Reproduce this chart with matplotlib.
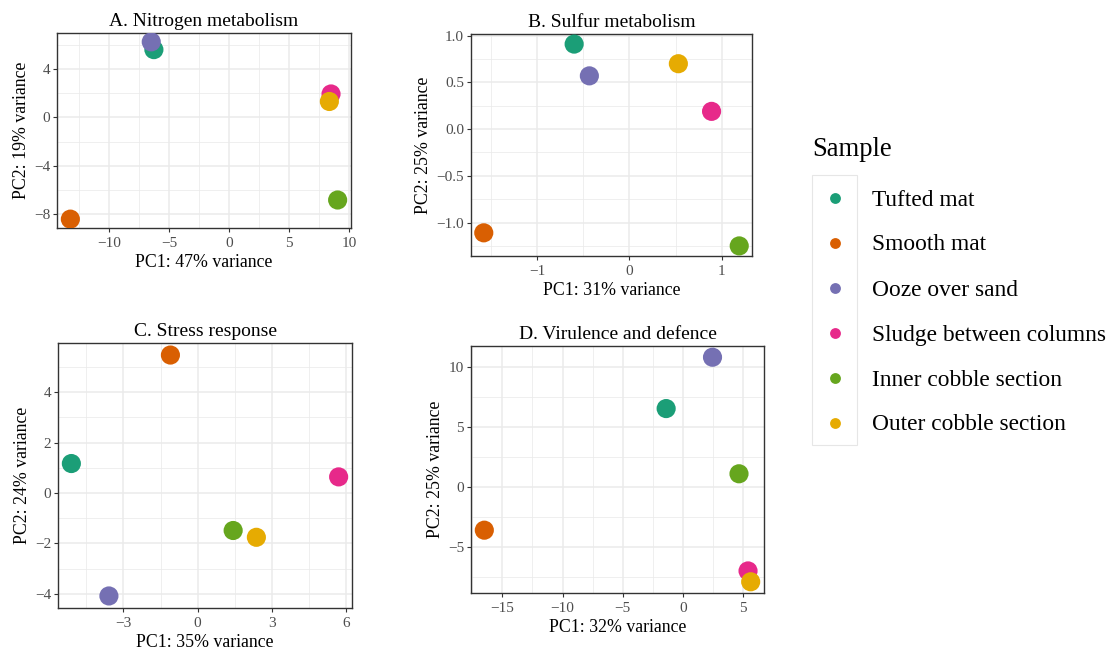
import matplotlib
matplotlib.use("Agg")
import matplotlib.pyplot as plt
from matplotlib.ticker import FixedLocator, AutoMinorLocator, FuncFormatter
from matplotlib.patches import Rectangle
from matplotlib.lines import Line2D

plt.rcParams["font.family"] = ["Liberation Serif", "DejaVu Serif"]
plt.rcParams["axes.unicode_minus"] = True

# Sample groups and their Dark2 colours
samples = ["Tufted mat", "Smooth mat", "Ooze over sand",
           "Sludge between columns", "Inner cobble section", "Outer cobble section"]
colors = ["#1B9E77", "#D95F02", "#7570B3", "#E7298A", "#66A61E", "#E6AB02"]

# PCA coordinates per functional category (order follows `samples`)
nitrogen_pc1 = [-6.28, -13.24, -6.50, 8.48, 9.03, 8.34]
nitrogen_pc2 = [5.60, -8.39, 6.24, 1.94, -6.81, 1.32]

sulfur_pc1 = [-0.60, -1.58, -0.435, 0.89, 1.19, 0.53]
sulfur_pc2 = [0.91, -1.11, 0.57, 0.19, -1.25, 0.70]

stress_pc1 = [-5.11, -1.10, -3.59, 5.71, 1.44, 2.38]
stress_pc2 = [1.17, 5.48, -4.09, 0.64, -1.49, -1.76]

virulence_pc1 = [-1.40, -16.50, 2.45, 5.40, 4.65, 5.62]
virulence_pc2 = [6.51, -3.58, 10.77, -6.96, 1.10, -7.86]

panel_titles = ["A. Nitrogen metabolism", "B. Sulfur metabolism",
                "C. Stress response", "D. Virulence and defence"]
pc1_variance = [47, 31, 35, 32]
pc2_variance = [19, 25, 24, 25]

xticks = [[-10, -5, 0, 5, 10], [-1, 0, 1], [-3, 0, 3, 6], [-15, -10, -5, 0, 5]]
yticks = [[-8, -4, 0, 4], [-1.0, -0.5, 0.0, 0.5, 1.0], [-4, -2, 0, 2, 4], [-5, 0, 5, 10]]
ytick_fmt = ["{:g}", "{:.1f}", "{:g}", "{:g}"]

panels = [(nitrogen_pc1, nitrogen_pc2), (sulfur_pc1, sulfur_pc2),
          (stress_pc1, stress_pc2), (virulence_pc1, virulence_pc2)]

W, H = 1117, 655
fig = plt.figure(figsize=(W / 100, H / 100), dpi=100)


def px_rect(left, top, right, bottom):
    return [left / W, (H - bottom) / H, (right - left) / W, (bottom - top) / H]


rects = [px_rect(57, 33, 351, 228), px_rect(471, 34, 752, 256),
         px_rect(58, 343, 352, 608), px_rect(471, 346, 764, 593)]

border = "#333333"
grid_col = "#EBEBEB"
tick_text = "#4D4D4D"

for i, (pc1, pc2) in enumerate(panels):
    ax = fig.add_axes(rects[i])
    ax.scatter(pc1, pc2, c=colors, s=190, linewidths=0, zorder=3)
    ax.margins(0.05)
    ax.xaxis.set_major_locator(FixedLocator(xticks[i]))
    ax.yaxis.set_major_locator(FixedLocator(yticks[i]))
    ax.xaxis.set_minor_locator(AutoMinorLocator(2))
    ax.yaxis.set_minor_locator(AutoMinorLocator(2))
    fmt = ytick_fmt[i]
    ax.yaxis.set_major_formatter(FuncFormatter(lambda v, p, f=fmt: f.format(v).replace("-", "\u2212")))
    ax.xaxis.set_major_formatter(FuncFormatter(lambda v, p: "{:g}".format(v).replace("-", "\u2212")))
    ax.grid(which="major", color=grid_col, linewidth=1.1, zorder=0)
    ax.grid(which="minor", color=grid_col, linewidth=0.55, zorder=0)
    ax.set_axisbelow(True)
    for s in ax.spines.values():
        s.set_color(border)
        s.set_linewidth(1.0)
    ax.tick_params(which="major", length=3, width=0.8, color=border,
                   labelsize=11, labelcolor=tick_text, pad=2)
    ax.tick_params(axis="x", which="major", pad=3.5)
    ax.tick_params(which="minor", length=0)
    ax.set_title(panel_titles[i], fontsize=14, pad=5)
    ax.set_xlabel(f"PC1: {pc1_variance[i]}% variance", fontsize=12.8, labelpad=3)
    ax.set_ylabel(f"PC2: {pc2_variance[i]}% variance", fontsize=12.8, labelpad=3)

# Legend: key column with coloured dots and labels
lax = fig.add_axes(px_rect(812, 175, 857, 445))
lax.set_xlim(0, 1)
lax.set_ylim(len(samples) - 0.5, -0.5)
lax.axis("off")
lax.add_patch(Rectangle((0, 0), 1, 1, transform=lax.transAxes, facecolor="white",
                        edgecolor="#E6E6E6", linewidth=0.8, clip_on=False))
for j, (name, col) in enumerate(zip(samples, colors)):
    lax.add_line(Line2D([0.5], [j], marker="o", markersize=7.8, color=col,
                        markeredgewidth=0, linestyle="none"))
    lax.text(1.33, j, name, fontsize=16.8, va="center_baseline", ha="left", clip_on=False)

fig.text(812 / W, (H - 155.5) / H, "Sample", fontsize=19.2, ha="left", va="baseline")

fig.savefig("out.png", dpi=100)
